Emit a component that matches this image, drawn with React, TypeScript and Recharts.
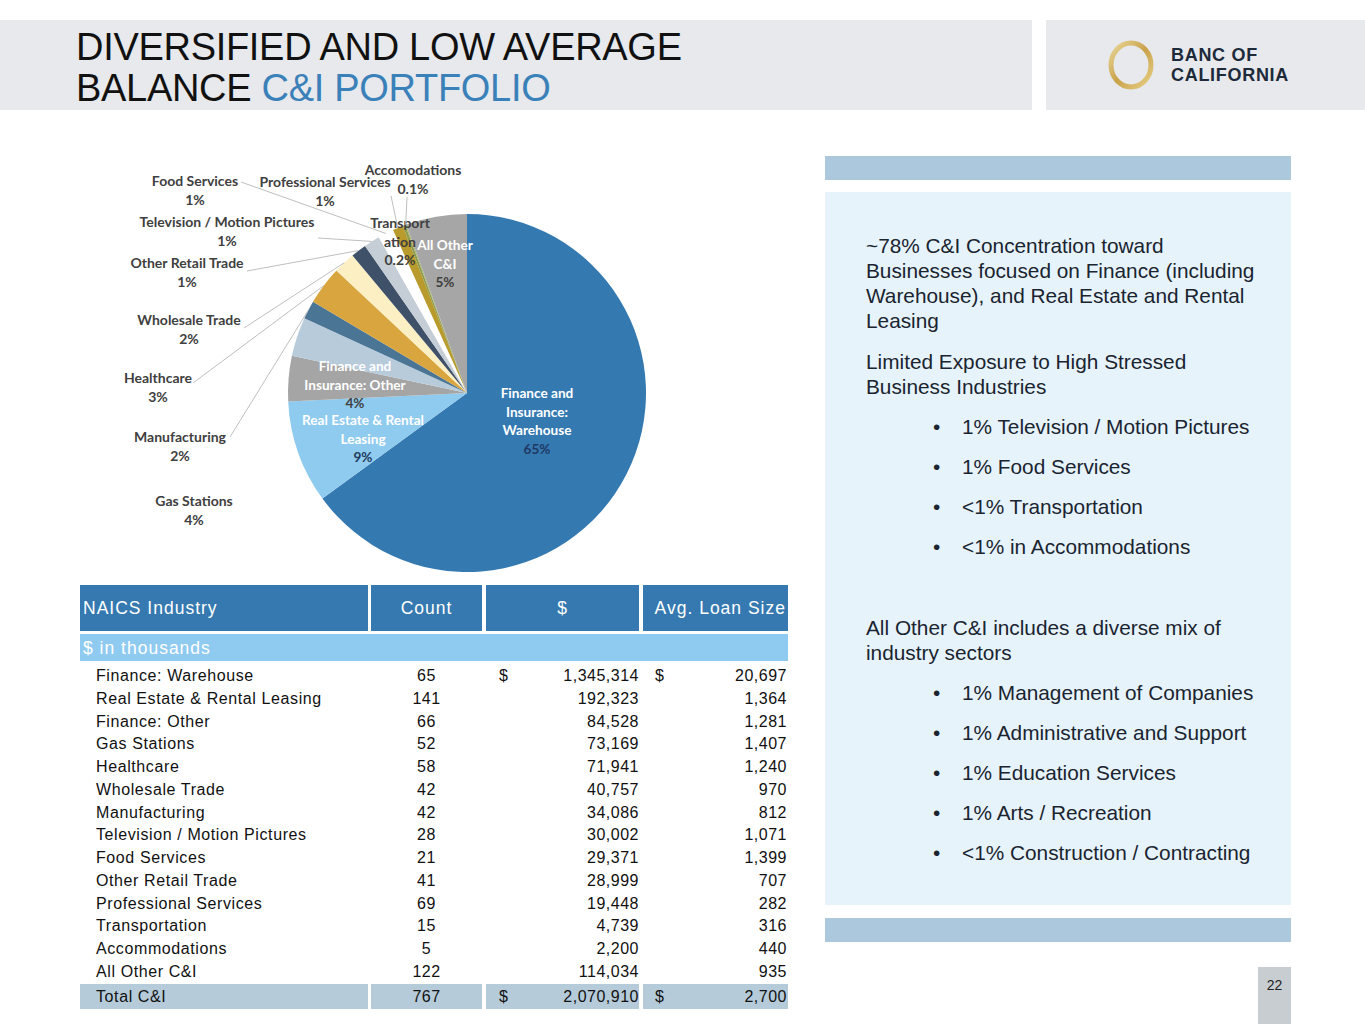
import React from 'react';
import { PieChart, Pie, Cell } from 'recharts';

// table data ($ in thousands), in table order
const industries = [
  'Finance: Warehouse',
  'Real Estate & Rental Leasing',
  'Finance: Other',
  'Gas Stations',
  'Healthcare',
  'Wholesale Trade',
  'Manufacturing',
  'Television / Motion Pictures',
  'Food Services',
  'Other Retail Trade',
  'Professional Services',
  'Transportation',
  'Accommodations',
  'All Other C&I',
];
const counts = [65, 141, 66, 52, 58, 42, 42, 28, 21, 41, 69, 15, 5, 122];
const balances = [1345314, 192323, 84528, 73169, 71941, 40757, 34086, 30002, 29371, 28999, 19448, 4739, 2200, 114034];
const avgSizes = [20697, 1364, 1281, 1407, 1240, 970, 812, 1071, 1399, 707, 282, 316, 440, 935];
const totalCount = 767;
const totalBalance = 2070910;
const totalAvg = 2700;

// pie: slice order clockwise from 12 o'clock, and the text printed on each slice
const pieOrder = [
  'Finance: Warehouse',
  'Real Estate & Rental Leasing',
  'Finance: Other',
  'Gas Stations',
  'Manufacturing',
  'Healthcare',
  'Wholesale Trade',
  'Other Retail Trade',
  'Television / Motion Pictures',
  'Food Services',
  'Professional Services',
  'Transportation',
  'Accommodations',
  'All Other C&I',
];
const pieLabels = [
  ['Finance and', 'Insurance:', 'Warehouse'],
  ['Real Estate & Rental', 'Leasing'],
  ['Finance and', 'Insurance: Other'],
  ['Gas Stations'],
  ['Manufacturing'],
  ['Healthcare'],
  ['Wholesale Trade'],
  ['Other Retail Trade'],
  ['Television / Motion Pictures'],
  ['Food Services'],
  ['Professional Services'],
  ['Transport', 'ation'],
  ['Accomodations'],
  ['All Other', 'C&I'],
];
const piePcts = ['65%', '9%', '4%', '4%', '2%', '3%', '2%', '1%', '1%', '1%', '1%', '0.2%', '0.1%', '5%'];

const pieColors = [
  '#3579B1', '#8FCBEF', '#A5A5A5', '#B7CBDB', '#4B7595', '#D9A53E', '#FCEFC3',
  '#3F5168', '#C5CED6', '#FFFFFF', '#B89B2C', '#8E9A4C', '#A9B26A', '#A6A6A6',
];

// where each label sits, relative to the pie centre (dx, dy of first line), optional leader start
const labelLayout: { dx: number; dy: number; lead?: [number, number]; inside?: boolean; pct?: string }[] = [
  { dx: 70, dy: 0, inside: true, pct: '#1F3864' },
  { dx: -104, dy: 27, inside: true, pct: '#1F3A5C' },
  { dx: -112, dy: -27, inside: true, pct: '#404040' },
  { dx: -273, dy: 107 },
  { dx: -287, dy: 43, lead: [-237, 44] },
  { dx: -309, dy: -16, lead: [-274, -10] },
  { dx: -278, dy: -74, lead: [-223, -65] },
  { dx: -280, dy: -131, lead: [-220, -122] },
  { dx: -240, dy: -172, lead: [-149, -155] },
  { dx: -272, dy: -213, lead: [-226, -211] },
  { dx: -142, dy: -212, lead: [-76, -197] },
  { dx: -67, dy: -171 },
  { dx: -54, dy: -224, lead: [-60, -196] },
  { dx: -22, dy: -148, inside: true, pct: '#404040' },
];

const pieData = pieOrder.map((name) => ({ name, value: balances[industries.indexOf(name)] }));

const RAD = Math.PI / 180;
const LH = 18.5;
const fmt = (n: number) => n.toLocaleString('en-US');

const renderLabel = (props: any) => {
  const { cx, cy, midAngle, outerRadius, index } = props;
  const pos = labelLayout[index];
  const x = cx + pos.dx;
  const y = cy + pos.dy;
  let leader = null;
  if (pos.lead) {
    const ex = cx + outerRadius * Math.cos(-midAngle * RAD);
    const ey = cy + outerRadius * Math.sin(-midAngle * RAD);
    leader = <line x1={cx + pos.lead[0]} y1={cy + pos.lead[1]} x2={ex} y2={ey} stroke="#BFBFBF" strokeWidth={1} />;
  }
  const txt = pos.inside ? '#FFFFFF' : '#404040';
  const pctCol = pos.pct || '#404040';
  return (
    <g key={`lbl-${index}`}>
      {leader}
      <text x={x} y={y} textAnchor="middle" dominantBaseline="central" fontFamily="Lato, 'Open Sans', sans-serif" fontWeight={700} fontSize={pos.inside ? 13.6 : 14}>
        {pieLabels[index].map((l, i) => (
          <tspan key={i} x={x} dy={i === 0 ? 0 : LH} fill={txt}>{l}</tspan>
        ))}
        <tspan x={x} dy={LH} fill={pctCol}>{piePcts[index]}</tspan>
      </text>
    </g>
  );
};

const bulletsA = ['1% Television / Motion Pictures', '1% Food Services', '<1% Transportation', '<1% in Accommodations'];
const bulletsB = ['1% Management of Companies', '1% Administrative and Support', '1% Education Services', '1% Arts / Recreation', '<1% Construction / Contracting'];

const abs = (left: number, top: number, extra: React.CSSProperties = {}): React.CSSProperties => ({ position: 'absolute', left, top, ...extra });

const COLS = [
  { left: 80, width: 288 },
  { left: 371, width: 111 },
  { left: 486, width: 153 },
  { left: 643, width: 145 },
];

const cellText: React.CSSProperties = { fontSize: 16, letterSpacing: 0.6, color: '#111', whiteSpace: 'nowrap' };
const numText: React.CSSProperties = { ...cellText, letterSpacing: 0.5 };
const headText: React.CSSProperties = { fontSize: 17.5, letterSpacing: 1, color: '#fff', whiteSpace: 'nowrap' };
const panelText: React.CSSProperties = { fontSize: 20.8, lineHeight: '25px', color: '#1A2430', whiteSpace: 'nowrap' };

const Row = ({ top, h, name, count, bal, avg, dollar }: any) => (
  <div style={abs(0, top, { height: h, width: 1365 })}>
    <div style={abs(96, 0, { ...cellText, lineHeight: `${h}px` })}>{name}</div>
    <div style={abs(371, 0, { ...numText, lineHeight: `${h}px`, width: 111, textAlign: 'center' })}>{count}</div>
    {dollar && <div style={abs(499, 0, { ...numText, lineHeight: `${h}px` })}>$</div>}
    <div style={abs(500, 0, { ...numText, lineHeight: `${h}px`, width: 139, textAlign: 'right' })}>{bal}</div>
    {dollar && <div style={abs(655, 0, { ...numText, lineHeight: `${h}px` })}>$</div>}
    <div style={abs(660, 0, { ...numText, lineHeight: `${h}px`, width: 127, textAlign: 'right' })}>{avg}</div>
  </div>
);

export default function App() {
  return (
    <div style={{ position: 'absolute', left: 0, top: 0, width: 1365, height: 1024, background: '#fff', fontFamily: "'Liberation Sans', Arial, sans-serif", overflow: 'hidden' }}>
      {/* header */}
      <div style={abs(0, 20, { width: 1032, height: 90, background: '#E7E9EC' })} />
      <div style={abs(1046, 20, { width: 319, height: 90, background: '#E7E9EC' })} />
      <div style={abs(76, 27, { fontSize: 38, lineHeight: '41px', color: '#111', letterSpacing: -0.3, whiteSpace: 'nowrap' })}>
        DIVERSIFIED AND LOW AVERAGE<br />
        BALANCE <span style={{ color: '#3A80B9' }}>C&amp;I PORTFOLIO</span>
      </div>
      <svg style={abs(1104, 38)} width={56} height={56}>
        <defs>
          <linearGradient id="gold" x1="0" y1="0" x2="1" y2="1">
            <stop offset="0" stopColor="#E9D79A" />
            <stop offset="0.5" stopColor="#C9A24A" />
            <stop offset="1" stopColor="#E7CF86" />
          </linearGradient>
        </defs>
        <ellipse cx={27} cy={27} rx={20} ry={22} fill="none" stroke="url(#gold)" strokeWidth={5} />
      </svg>
      <div style={abs(1171, 45, { fontSize: 18, fontWeight: 700, lineHeight: '20px', color: '#1C2A3A', letterSpacing: 0.7 })}>
        BANC OF<br />CALIFORNIA
      </div>

      {/* pie */}
      <div style={abs(100, 150, { width: 600, height: 440 })}>
        <PieChart width={600} height={440} margin={{ top: 0, right: 0, bottom: 0, left: 0 }}>
          <Pie
            data={pieData}
            dataKey="value"
            nameKey="name"
            cx={367}
            cy={243}
            outerRadius={179}
            startAngle={90}
            endAngle={-270}
            stroke="none"
            label={renderLabel}
            labelLine={false}
            isAnimationActive={false}
          >
            {pieData.map((d, i) => (
              <Cell key={d.name} fill={pieColors[i]} />
            ))}
          </Pie>
        </PieChart>
      </div>

      {/* table */}
      {COLS.map((c, i) => (
        <div key={`h${i}`} style={abs(c.left, 585, { width: c.width, height: 46, background: '#3579B0' })} />
      ))}
      <div style={abs(83, 585, { ...headText, lineHeight: '47px' })}>NAICS Industry</div>
      <div style={abs(371, 585, { ...headText, width: 111, textAlign: 'center', lineHeight: '47px' })}>Count</div>
      <div style={abs(486, 585, { ...headText, width: 153, textAlign: 'center', lineHeight: '47px' })}>$</div>
      <div style={abs(643, 585, { ...headText, width: 143, textAlign: 'right', lineHeight: '47px' })}>Avg. Loan Size</div>
      <div style={abs(80, 634, { width: 708, height: 27, background: '#8FCAF1' })} />
      <div style={abs(83, 634, { ...headText, lineHeight: '29px' })}>$ in thousands</div>
      {industries.map((name, i) => (
        <Row key={name} top={665 + i * 22.75} h={22.75} name={name} count={counts[i]} bal={fmt(balances[i])} avg={fmt(avgSizes[i])} dollar={i === 0} />
      ))}
      {COLS.map((c, i) => (
        <div key={`t${i}`} style={abs(c.left, 984, { width: c.width, height: 25, background: '#B5CBDA' })} />
      ))}
      <Row top={984} h={25} name="Total C&I" count={totalCount} bal={fmt(totalBalance)} avg={fmt(totalAvg)} dollar />

      {/* right panel */}
      <div style={abs(825, 156, { width: 466, height: 24, background: '#ABC8DD' })} />
      <div style={abs(825, 192, { width: 466, height: 713, background: '#E6F3FB' })} />
      <div style={abs(825, 918, { width: 466, height: 24, background: '#ABC8DD' })} />
      <div style={abs(866, 233, panelText)}>
        ~78% C&amp;I Concentration toward<br />
        Businesses focused on Finance (including<br />
        Warehouse), and Real Estate and Rental<br />
        Leasing
      </div>
      <div style={abs(866, 349, panelText)}>
        Limited Exposure to High Stressed<br />
        Business Industries
      </div>
      {bulletsA.map((b, i) => (
        <div key={b} style={abs(933, 414 + i * 40, panelText)}>
          <span style={{ display: 'inline-block', width: 29 }}>•</span>{b}
        </div>
      ))}
      <div style={abs(866, 615, panelText)}>
        All Other C&amp;I includes a diverse mix of<br />
        industry sectors
      </div>
      {bulletsB.map((b, i) => (
        <div key={b} style={abs(933, 680 + i * 40, panelText)}>
          <span style={{ display: 'inline-block', width: 29 }}>•</span>{b}
        </div>
      ))}
      <div style={abs(1258, 967, { width: 33, height: 57, background: '#C8CDD1' })} />
      <div style={abs(1258, 977, { width: 33, textAlign: 'center', fontSize: 14, color: '#222' })}>22</div>
    </div>
  );
}
